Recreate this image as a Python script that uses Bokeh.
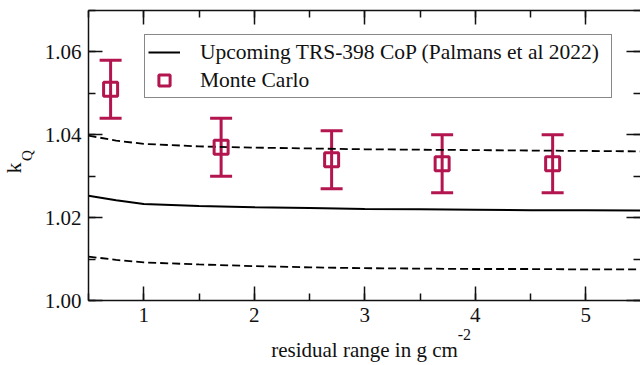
import math
from bokeh.plotting import figure
from bokeh.models import (Range1d, LinearAxis, Whisker, TeeHead, ColumnDataSource,
                          Legend, LegendItem, Title, SingleIntervalTicker, FixedTicker,
                          CustomJSTickFormatter, PrintfTickFormatter)
from bokeh.embed import file_html
from bokeh.resources import INLINE

# ---- data ----
x_line = [0.5, 0.75, 1.0, 1.5, 2.0, 2.5, 3.0, 3.5, 4.0, 4.5, 5.0, 5.5]
kq_trs398 = [1.0253, 1.0242, 1.0233, 1.0228, 1.0225, 1.0223, 1.0221, 1.0220, 1.0219, 1.0218, 1.0218, 1.0217]
kq_upper = [1.0398, 1.0386, 1.0378, 1.0372, 1.0369, 1.0367, 1.0365, 1.0364, 1.0363, 1.0362, 1.0361, 1.0360]
kq_lower = [1.0106, 1.0098, 1.0092, 1.0087, 1.0083, 1.0080, 1.0078, 1.0077, 1.0076, 1.0076, 1.0075, 1.0075]

x_mc = [0.7, 1.7, 2.7, 3.7, 4.7]
kq_mc = [1.051, 1.037, 1.034, 1.033, 1.033]
kq_mc_err = [0.007, 0.007, 0.007, 0.007, 0.007]

legend_labels = ["Upcoming TRS-398 CoP (Palmans et al 2022)", "Monte Carlo"]
x_title = "residual range in g cm"
x_title_sup = "-2"
y_title = "k"
y_title_sub = "Q"

MC_COLOR = "#B3154F"
FONT = "Liberation Serif"
INK = "#111111"

p = figure(width=640, height=365, x_range=Range1d(0.5, 5.495), y_range=Range1d(1.0, 1.07),
           output_backend="svg", toolbar_location=None,
           min_border_left=88, min_border_right=0, min_border_top=10, min_border_bottom=65)
p.outline_line_color = None
p.grid.visible = False
p.background_fill_color = "white"
p.border_fill_color = "white"

def style_axis(ax, ticker, labels=True):
    ax.ticker = ticker
    ax.axis_line_color = INK
    ax.axis_line_width = 1.5
    ax.major_tick_line_color = INK
    ax.minor_tick_line_color = INK
    ax.major_tick_line_width = 1.5
    ax.minor_tick_line_width = 1.5
    ax.major_tick_in = 14
    ax.major_tick_out = 0
    ax.minor_tick_in = 7
    ax.minor_tick_out = 0
    ax.major_label_text_font = FONT
    ax.major_label_text_font_size = "21px"
    ax.major_label_text_color = INK
    if not labels:
        ax.formatter = CustomJSTickFormatter(code="return ''")
        ax.major_label_standoff = 0
        ax.major_label_text_font_size = "1px"

xa = p.xaxis[0]
ya = p.yaxis[0]
style_axis(xa, SingleIntervalTicker(interval=1, num_minor_ticks=2))
style_axis(ya, SingleIntervalTicker(interval=0.02, num_minor_ticks=2))
xa.major_label_standoff = 7
ya.major_label_standoff = 7
ya.formatter = PrintfTickFormatter(format="%.2f")

# subscript Q sits closest to the tick labels
ya.axis_label = y_title_sub
ya.axis_label_text_font = FONT
ya.axis_label_text_font_size = "15px"
ya.axis_label_text_font_style = "normal"
ya.axis_label_text_color = INK
ya.axis_label_standoff = 7

top = LinearAxis()
style_axis(top, SingleIntervalTicker(interval=1, num_minor_ticks=2), labels=False)
p.add_layout(top, "above")
right = LinearAxis()
style_axis(right, SingleIntervalTicker(interval=0.02, num_minor_ticks=2), labels=False)
right.axis_line_color = None
p.add_layout(right, "right")

# ---- x title: a bare second bottom axis; its one label is the exponent ----
SUP_AT = 3.902  # where the exponent sits along the x scale
xt2 = LinearAxis(ticker=FixedTicker(ticks=[SUP_AT]),
                 formatter=CustomJSTickFormatter(code="return '%s'" % x_title_sup),
                 axis_line_color=None, major_tick_line_color=None, minor_tick_line_color=None,
                 major_tick_in=0, major_tick_out=0, minor_tick_in=0, minor_tick_out=0,
                 major_label_standoff=4, major_label_text_font=FONT,
                 major_label_text_font_size="16px", major_label_text_color=INK,
                 axis_label=x_title, axis_label_text_font=FONT, axis_label_text_font_size="21px",
                 axis_label_text_font_style="normal", axis_label_text_color=INK,
                 axis_label_standoff=-5)
p.add_layout(xt2, "below")

p.add_layout(Title(text=y_title, align="left", offset=127, standoff=-20,
                   vertical_align="bottom", text_font=FONT, text_font_size="22px",
                   text_font_style="normal", text_color=INK), "left")

# ---- glyphs ----
r_line = p.line(x_line, kq_trs398, line_color="black", line_width=2)
p.line(x_line, kq_upper, line_color="black", line_width=1.8, line_dash="8 4")
p.line(x_line, kq_lower, line_color="black", line_width=1.8, line_dash="8 4")

src = ColumnDataSource(dict(x=x_mc, y=kq_mc,
                            lo=[v - e for v, e in zip(kq_mc, kq_mc_err)],
                            hi=[v + e for v, e in zip(kq_mc, kq_mc_err)]))
wh = Whisker(source=src, base="x", lower="lo", upper="hi",
             line_color=MC_COLOR, line_width=3,
             upper_head=TeeHead(size=22, line_color=MC_COLOR, line_width=3),
             lower_head=TeeHead(size=22, line_color=MC_COLOR, line_width=3))
p.add_layout(wh)
r_mc = p.scatter("x", "y", source=src, marker="square", size=14, fill_color=None,
                 line_color=MC_COLOR, line_width=3)

legend = Legend(items=[LegendItem(label=legend_labels[0], renderers=[r_line]),
                       LegendItem(label=legend_labels[1], renderers=[r_mc])],
                location=(56, 202), border_line_color=INK, border_line_width=1.5,
                background_fill_color="white", background_fill_alpha=1,
                label_text_font=FONT, label_text_font_size="21.5px", label_text_color=INK,
                glyph_width=32, glyph_height=28, spacing=0, padding=3, margin=0,
                label_standoff=20, label_height=20, label_width=408)
p.add_layout(legend)

open("out.html", "w").write(file_html(p, INLINE))
